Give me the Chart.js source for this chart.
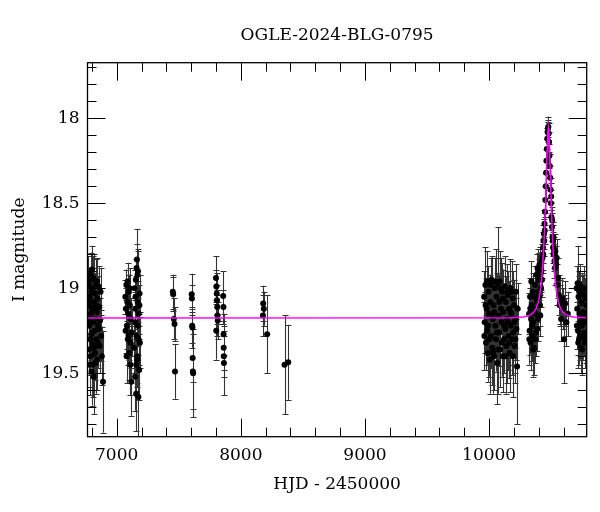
<!DOCTYPE html>
<html>
<head>
<meta charset="utf-8">
<script src="https://cdn.jsdelivr.net/npm/chart.js@4.4.1/dist/chart.umd.min.js"></script>
<style>
  html, body { margin: 0; padding: 0; background: #fff; }
  #wrap { width: 600px; height: 512px; }
</style>
</head>
<body>
<div id="wrap"><canvas id="lc"></canvas></div>
<script>
/* ===== DATA (HJD - 2450000, I mag, error) ===== */
const season2014 = [
  [6772, 19.10, 0.12], [6775, 19.36, 0.15], [6778, 18.98, 0.10], [6780, 19.22, 0.14],
  [6783, 19.30, 0.16], [6785, 19.05, 0.11], [6788, 19.40, 0.18], [6790, 18.92, 0.13],
  [6793, 19.15, 0.12], [6795, 19.27, 0.15], [6798, 19.49, 0.20], [6800, 18.89, 0.14],
  [6803, 19.12, 0.11], [6806, 19.33, 0.17], [6808, 19.00, 0.12], [6811, 19.20, 0.13],
  [6814, 19.52, 0.22], [6816, 18.95, 0.15], [6819, 19.08, 0.10], [6822, 19.25, 0.14],
  [6825, 19.38, 0.16], [6828, 19.03, 0.12], [6831, 19.18, 0.11], [6834, 18.97, 0.14],
  [6837, 19.30, 0.15], [6840, 19.14, 0.12], [6843, 19.42, 0.18], [6846, 19.06, 0.13],
  [6850, 19.22, 0.14], [6854, 18.99, 0.12], [6858, 19.11, 0.11], [6862, 19.34, 0.16],
  [6866, 19.19, 0.13], [6870, 19.02, 0.14], [6875, 19.28, 0.15], [6880, 19.40, 0.17],
  [6890, 19.55, 0.30],
  [6773, 18.95, 0.14], [6777, 19.18, 0.12], [6782, 19.45, 0.18], [6787, 19.08, 0.12],
  [6792, 19.30, 0.15], [6797, 19.02, 0.12], [6802, 19.26, 0.14], [6807, 19.45, 0.19],
  [6812, 18.94, 0.13], [6818, 19.35, 0.16], [6824, 19.12, 0.12], [6830, 19.44, 0.18],
  [6836, 19.10, 0.12], [6842, 18.96, 0.14], [6848, 19.32, 0.15], [6856, 19.24, 0.14]
];
const season2015 = [
  [7070, 19.05, 0.10], [7074, 19.12, 0.12], [7078, 18.98, 0.09], [7082, 19.22, 0.14],
  [7086, 19.08, 0.11], [7090, 19.30, 0.15], [7094, 19.15, 0.12], [7098, 19.02, 0.10],
  [7102, 19.38, 0.16], [7106, 19.10, 0.11], [7110, 19.45, 0.18], [7114, 19.18, 0.12],
  [7118, 19.55, 0.20], [7122, 19.26, 0.14], [7140, 19.35, 0.15], [7144, 19.00, 0.11],
  [7148, 19.52, 0.20], [7151, 19.20, 0.13], [7154, 18.95, 0.12], [7157, 19.62, 0.22],
  [7160, 19.28, 0.14], [7163, 18.83, 0.18], [7166, 19.40, 0.16], [7169, 19.08, 0.12],
  [7172, 18.90, 0.13], [7175, 19.64, 0.25], [7178, 19.15, 0.12], [7181, 19.48, 0.18],
  [7184, 19.03, 0.11], [7187, 19.32, 0.15], [7160, 18.88, 0.14], [7170, 19.22, 0.12],
  [7150, 19.12, 0.10], [7165, 19.42, 0.16],
  [7072, 19.25, 0.13], [7080, 19.40, 0.16], [7088, 18.96, 0.11], [7096, 19.28, 0.14],
  [7104, 19.00, 0.12], [7112, 19.32, 0.15], [7152, 19.05, 0.12], [7158, 19.45, 0.17],
  [7168, 18.92, 0.14], [7176, 19.30, 0.15], [7183, 19.10, 0.12]
];
const season2016to2018 = [
  [7452, 19.02, 0.10], [7455, 19.035, 0.10], [7460, 19.18, 0.12], [7466, 19.21, 0.10],
  [7470, 19.49, 0.16],
  [7604, 19.035, 0.12], [7606, 19.06, 0.08], [7608, 19.22, 0.10], [7610, 19.23, 0.12],
  [7612, 19.41, 0.14], [7614, 19.49, 0.22], [7616, 19.50, 0.26],
  [7800, 18.94, 0.13], [7803, 18.99, 0.10], [7806, 19.03, 0.12], [7808, 19.07, 0.09],
  [7810, 19.11, 0.10], [7812, 19.16, 0.12], [7814, 19.19, 0.11], [7802, 19.25, 0.17],
  [7858, 19.045, 0.145], [7860, 19.11, 0.10], [7861, 19.27, 0.12], [7862, 19.35, 0.13],
  [7863, 19.40, 0.12], [7864, 19.44, 0.19],
  [8180, 19.09, 0.105], [8185, 19.12, 0.10], [8178, 19.16, 0.12], [8212, 19.27, 0.23],
  [8352, 19.45, 0.29], [8382, 19.435, 0.22]
];
const season2023 = [
  [9960, 19.05, 0.15], [9965, 19.20, 0.18], [9970, 18.98, 0.22], [9975, 19.32, 0.16],
  [9980, 19.12, 0.14], [9985, 19.25, 0.20], [9990, 19.38, 0.17], [9995, 19.02, 0.15],
  [10000, 19.15, 0.18], [10005, 19.42, 0.20], [10010, 19.08, 0.16], [10015, 19.28, 0.19],
  [10020, 18.95, 0.14], [10025, 19.35, 0.22], [10030, 19.18, 0.17], [10035, 19.10, 0.15],
  [10040, 19.40, 0.20], [10045, 19.00, 0.18], [10050, 19.22, 0.16], [10055, 19.30, 0.19],
  [10060, 19.05, 0.14], [10065, 19.44, 0.24], [10069, 18.97, 0.33], [10075, 19.16, 0.16],
  [10080, 19.26, 0.20], [10085, 18.96, 0.18], [10090, 19.36, 0.22], [10095, 19.12, 0.15],
  [10100, 19.20, 0.19], [10105, 19.02, 0.17], [10110, 19.40, 0.21], [10115, 19.14, 0.16],
  [10120, 19.30, 0.20], [10125, 18.99, 0.18], [10130, 19.24, 0.17], [10135, 19.08, 0.15],
  [10140, 19.34, 0.22], [10145, 19.18, 0.19], [10150, 19.04, 0.14], [10155, 19.28, 0.20],
  [10160, 19.12, 0.16], [10165, 19.38, 0.23], [10170, 19.00, 0.17], [10175, 19.22, 0.18],
  [10180, 19.15, 0.15], [10185, 19.30, 0.21], [10190, 19.06, 0.16], [10195, 19.26, 0.19],
  [10200, 19.10, 0.15], [10205, 19.34, 0.22], [10210, 19.18, 0.17], [10215, 19.02, 0.16],
  [10220, 19.24, 0.18], [10225, 19.46, 0.34], [10230, 19.12, 0.15],
  [9962, 19.28, 0.20], [9972, 19.10, 0.16], [9982, 18.96, 0.18], [9992, 19.22, 0.17],
  [10002, 19.30, 0.22], [10012, 18.98, 0.16], [10022, 19.16, 0.18], [10032, 19.38, 0.24],
  [10042, 19.14, 0.17], [10052, 18.96, 0.19], [10062, 19.26, 0.18], [10072, 19.36, 0.26],
  [10082, 19.08, 0.16], [10092, 19.00, 0.18], [10102, 19.32, 0.20], [10112, 19.06, 0.17],
  [10122, 19.22, 0.19], [10132, 19.40, 0.22], [10142, 19.02, 0.16], [10152, 19.20, 0.18],
  [10162, 19.32, 0.21], [10172, 19.14, 0.16], [10182, 19.02, 0.18], [10192, 19.40, 0.24],
  [10202, 19.20, 0.18], [10212, 19.30, 0.20]
];
const season2024 = [
  [10322, 19.15, 0.12], [10326, 19.25, 0.14], [10330, 19.05, 0.11], [10334, 19.32, 0.16],
  [10338, 19.18, 0.12], [10342, 19.10, 0.13], [10346, 19.28, 0.15], [10350, 19.02, 0.11],
  [10354, 19.20, 0.13], [10358, 19.12, 0.12], [10362, 19.35, 0.16], [10366, 19.05, 0.12],
  [10370, 18.98, 0.11], [10374, 19.15, 0.12], [10378, 19.26, 0.14], [10382, 18.92, 0.12],
  [10386, 19.08, 0.12], [10390, 18.88, 0.11], [10394, 19.18, 0.13], [10398, 18.95, 0.12],
  [10402, 19.05, 0.12], [10406, 18.86, 0.10], [10410, 19.10, 0.12], [10414, 18.92, 0.10],
  [10418, 19.00, 0.11], [10422, 18.84, 0.10], [10426, 18.95, 0.10], [10430, 18.82, 0.09],
  [10434, 18.76, 0.09], [10438, 18.72, 0.09], [10442, 18.68, 0.09], [10446, 18.62, 0.08],
  [10450, 18.55, 0.08], [10453, 18.48, 0.08], [10456, 18.40, 0.07], [10459, 18.32, 0.07],
  [10462, 18.25, 0.07], [10465, 18.18, 0.06], [10468, 18.12, 0.06], [10471, 18.08, 0.06],
  [10474, 18.06, 0.05], [10477, 18.05, 0.06], [10480, 18.09, 0.06], [10483, 18.14, 0.06],
  [10486, 18.22, 0.07], [10489, 18.28, 0.07], [10492, 18.35, 0.07], [10495, 18.42, 0.07],
  [10498, 18.50, 0.08], [10502, 18.58, 0.08], [10506, 18.64, 0.08], [10510, 18.70, 0.09],
  [10515, 18.76, 0.09], [10520, 18.80, 0.10], [10526, 18.84, 0.10], [10532, 18.78, 0.10],
  [10538, 18.86, 0.11], [10544, 18.82, 0.11], [10550, 18.98, 0.12], [10556, 18.94, 0.12],
  [10562, 19.04, 0.12], [10568, 19.10, 0.12], [10574, 19.08, 0.13], [10580, 19.18, 0.13],
  [10588, 19.06, 0.12], [10596, 19.12, 0.12], [10604, 19.30, 0.26], [10612, 19.09, 0.13],
  [10622, 19.20, 0.14], [10634, 19.15, 0.13],
  [10324, 19.30, 0.15], [10332, 19.12, 0.12], [10340, 18.96, 0.12], [10348, 19.22, 0.13],
  [10356, 19.36, 0.16], [10364, 19.14, 0.12], [10372, 19.30, 0.14], [10380, 19.06, 0.12],
  [10388, 19.24, 0.13], [10396, 19.02, 0.12], [10404, 18.90, 0.11], [10412, 19.16, 0.12],
  [10420, 18.90, 0.11], [10500, 18.46, 0.08], [10508, 18.60, 0.08], [10513, 18.72, 0.09],
  [10518, 18.70, 0.09], [10524, 18.78, 0.10], [10530, 18.88, 0.10], [10436, 18.80, 0.09],
  [10444, 18.72, 0.09], [10448, 18.66, 0.08]
];
const season2025 = [
  [10705, 19.00, 0.13], [10710, 19.12, 0.12], [10713, 18.97, 0.22], [10716, 19.25, 0.14],
  [10720, 19.05, 0.12], [10724, 19.30, 0.15], [10728, 19.15, 0.13], [10732, 18.98, 0.12],
  [10736, 19.20, 0.14], [10740, 19.35, 0.15], [10744, 19.08, 0.12], [10748, 19.22, 0.13],
  [10752, 19.02, 0.11], [10756, 19.28, 0.14], [10760, 19.14, 0.12], [10764, 19.00, 0.13],
  [10768, 19.18, 0.12], [10772, 19.32, 0.15], [10776, 19.06, 0.12], [10780, 19.20, 0.13],
  [10784, 19.10, 0.12],
  [10707, 19.22, 0.14], [10718, 19.32, 0.15], [10726, 19.02, 0.12], [10734, 19.28, 0.14],
  [10742, 19.16, 0.13], [10750, 19.36, 0.15], [10758, 19.04, 0.12], [10766, 19.26, 0.14],
  [10774, 19.16, 0.13], [10782, 19.30, 0.14]
];

/* model curve */
const modelHjd = [6765, 10177, 10277, 10327, 10357, 10377, 10387, 10397, 10407, 10417,
  10427, 10437, 10447, 10452, 10457, 10462, 10467, 10472, 10477, 10482, 10487, 10492,
  10497, 10502, 10507, 10517, 10527, 10537, 10547, 10557, 10567, 10577, 10597, 10627,
  10677, 10786];
const modelMag = [19.175, 19.174, 19.169, 19.159, 19.143, 19.121, 19.102, 19.077, 19.040,
  18.988, 18.912, 18.801, 18.644, 18.544, 18.429, 18.306, 18.185, 18.091, 18.055, 18.091,
  18.185, 18.306, 18.429, 18.544, 18.644, 18.801, 18.912, 18.988, 19.040, 19.077, 19.102,
  19.121, 19.143, 19.159, 19.169, 19.174];

/* ===== AXES ===== */
const X_RANGE = [6765, 10786];
const Y_RANGE = [17.673, 19.873];
const X_MAJOR = [7000, 8000, 9000, 10000];
const Y_MAJOR = [18, 18.5, 19, 19.5];
const X_MINOR_STEP = 200;
const Y_MINOR_STEP = 0.1;

const observations = [
  ...season2014, ...season2015, ...season2016to2018,
  ...season2023, ...season2024, ...season2025
];

const FONT = { family: "'DejaVu Serif', serif", size: 17, weight: "normal" };

/* ===== HELPERS ===== */
function minorTicks(range, step) {
  const out = [];
  const k0 = Math.ceil(range[0] / step - 1e-9);
  const k1 = Math.floor(range[1] / step + 1e-9);
  for (let k = k0; k <= k1; k++) out.push(+(k * step).toFixed(6));
  return out;
}

function isMajor(list, v) {
  return list.some((m) => Math.abs(m - v) < 1e-6);
}

/* error bars, drawn under the points */
const errorBars = {
  id: "errorBars",
  beforeDatasetsDraw(chart) {
    const { ctx, chartArea: a, scales: { x, y } } = chart;
    ctx.save();
    ctx.beginPath();
    ctx.rect(a.left, a.top, a.right - a.left, a.bottom - a.top);
    ctx.clip();
    ctx.strokeStyle = "rgba(0,0,0,0.8)";
    ctx.lineWidth = 1.1;
    ctx.beginPath();
    observations.forEach(([t, m, e]) => {
      const px = Math.round(x.getPixelForValue(t)) + 0.5;
      const y1 = y.getPixelForValue(m - e);
      const y2 = y.getPixelForValue(m + e);
      ctx.moveTo(px, y1);
      ctx.lineTo(px, y2);
      ctx.moveTo(px - 3, Math.round(y1) + 0.5);
      ctx.lineTo(px + 3, Math.round(y1) + 0.5);
      ctx.moveTo(px - 3, Math.round(y2) + 0.5);
      ctx.lineTo(px + 3, Math.round(y2) + 0.5);
    });
    ctx.stroke();
    ctx.restore();
  },
};

/* box frame with inward ticks on all four sides */
const frameTicks = {
  id: "frameTicks",
  afterDatasetsDraw(chart) {
    const { ctx, chartArea: a, scales: { x, y } } = chart;
    ctx.save();
    ctx.strokeStyle = "#000";
    ctx.lineWidth = 1;
    ctx.beginPath();
    minorTicks(X_RANGE, X_MINOR_STEP).forEach((v) => {
      const px = Math.round(x.getPixelForValue(v)) + 0.5;
      const len = isMajor(X_MAJOR, v) ? 18 : 9;
      ctx.moveTo(px, a.bottom);
      ctx.lineTo(px, a.bottom - len);
      ctx.moveTo(px, a.top);
      ctx.lineTo(px, a.top + len);
    });
    minorTicks(Y_RANGE, Y_MINOR_STEP).forEach((v) => {
      const py = Math.round(y.getPixelForValue(v)) + 0.5;
      const len = isMajor(Y_MAJOR, v) ? 18 : 9;
      ctx.moveTo(a.left, py);
      ctx.lineTo(a.left + len, py);
      ctx.moveTo(a.right, py);
      ctx.lineTo(a.right - len, py);
    });
    ctx.stroke();
    ctx.lineWidth = 1.3;
    ctx.strokeRect(a.left, a.top, a.right - a.left, a.bottom - a.top);
    ctx.restore();
  },
};

/* ===== CHART ===== */
new Chart(document.getElementById("lc"), {
  type: "scatter",
  data: {
    datasets: [
      {
        label: "model",
        data: modelHjd.map((t, i) => ({ x: t, y: modelMag[i] })),
        showLine: true,
        borderColor: "#ff00ff",
        borderWidth: 1.5,
        pointRadius: 0,
        tension: 0,
      },
      {
        label: "OGLE",
        data: observations.map(([t, m]) => ({ x: t, y: m })),
        backgroundColor: "#000",
        borderWidth: 0,
        pointRadius: 3,
      },
    ],
  },
  options: {
    responsive: true,
    maintainAspectRatio: false,
    animation: false,
    layout: { padding: { left: 0, right: 13.3, top: 0, bottom: 0 } },
    plugins: {
      legend: { display: false },
      tooltip: { enabled: false },
      title: {
        display: true,
        text: "OGLE-2024-BLG-0795",
        fullSize: false,
        color: "#000",
        font: FONT,
        padding: { top: 25, bottom: 17.3 },
      },
    },
    scales: {
      x: {
        type: "linear",
        min: X_RANGE[0],
        max: X_RANGE[1],
        grid: { display: false, drawTicks: false },
        border: { display: false },
        afterBuildTicks: (s) => { s.ticks = X_MAJOR.map((v) => ({ value: v })); },
        afterFit: (s) => { s.height = 75.3; },
        ticks: {
          color: "#000",
          font: FONT,
          padding: 9,
          maxRotation: 0,
          autoSkip: false,
          callback: (v) => String(v),
        },
        title: {
          display: true,
          text: "HJD - 2450000",
          color: "#000",
          font: FONT,
          padding: { top: 0, bottom: 16.8 },
        },
      },
      y: {
        type: "linear",
        reverse: true,
        min: Y_RANGE[0],
        max: Y_RANGE[1],
        grid: { display: false, drawTicks: false },
        border: { display: false },
        afterBuildTicks: (s) => { s.ticks = Y_MAJOR.map((v) => ({ value: v })); },
        afterFit: (s) => { s.width = 87.5; },
        ticks: {
          color: "#000",
          font: FONT,
          padding: 8,
          autoSkip: false,
          callback: (v) => String(v),
        },
        title: {
          display: true,
          text: "I magnitude",
          color: "#000",
          font: FONT,
          padding: { top: 9.8, bottom: 0 },
        },
      },
    },
  },
  plugins: [errorBars, frameTicks],
});
</script>
</body>
</html>
